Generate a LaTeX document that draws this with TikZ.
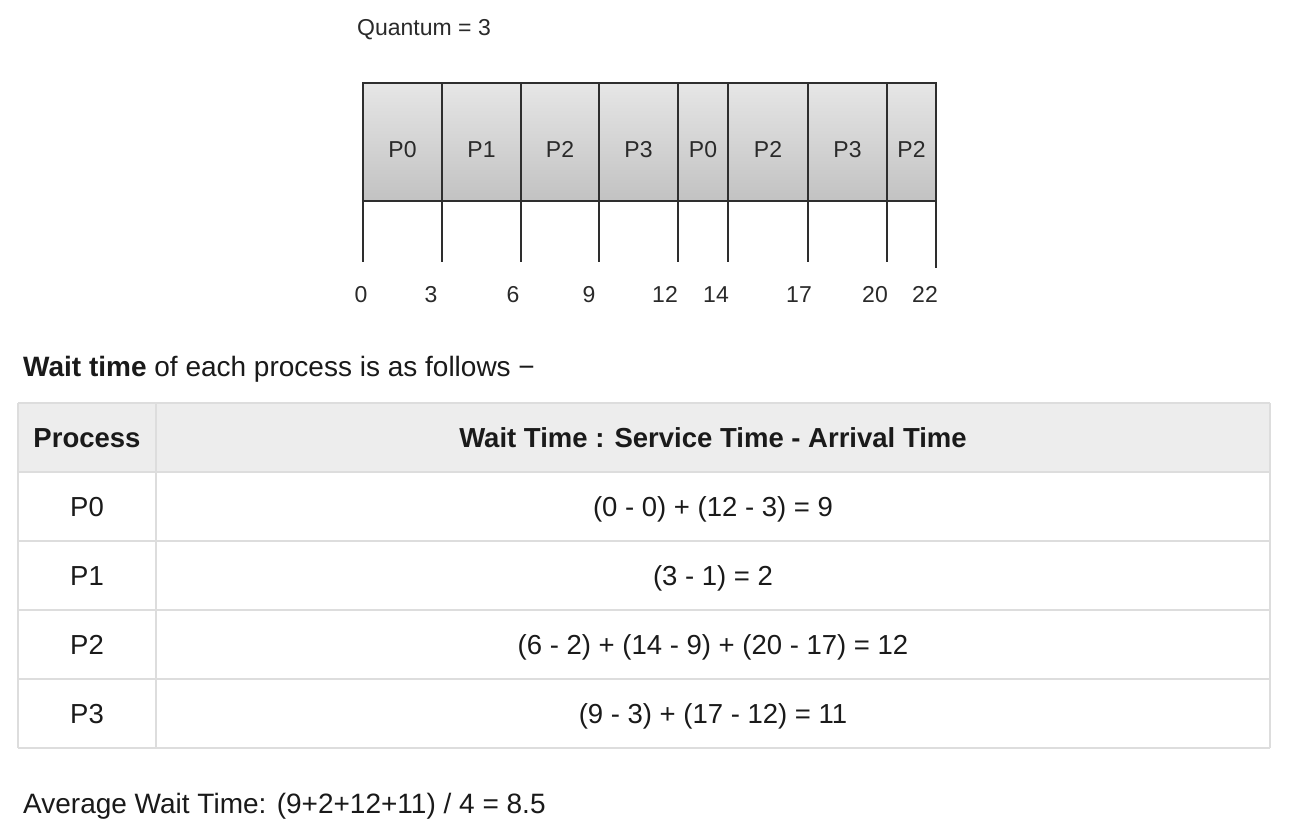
\documentclass[tikz,border=0pt]{standalone}
\usepackage{fontspec}
\setmainfont{Liberation Sans}
\definecolor{gline}{HTML}{2E2E2E}
\definecolor{gtext}{HTML}{2A2A2A}
\definecolor{gtop}{HTML}{E6E6E6}
\definecolor{gbot}{HTML}{C2C2C2}
\definecolor{tborder}{HTML}{DDDDDD}
\definecolor{thead}{HTML}{EDEDED}
\definecolor{ttext}{HTML}{1A1A1A}
\tikzset{
  gfont/.style={font=\fontsize{23}{26}\selectfont, text=gtext, inner sep=0pt, anchor=base},
  slot/.style={draw=gline, line width=1.6pt, top color=gtop, bottom color=gbot},
  tick/.style={draw=gline, line width=1.3pt},
  tfont/.style={font=\fontsize{27.5}{32}\selectfont, text=ttext, inner sep=0pt, anchor=base},
  bfont/.style={font=\fontsize{28}{32}\selectfont, text=ttext, inner sep=0pt, anchor=base west},
  tline/.style={draw=tborder, line width=1.3pt},
}
\begin{document}
\begin{tikzpicture}[x=1pt,y=-1pt]
\useasboundingbox (0,0) rectangle (1289,828);
\fill[white] (0,0) rectangle (1289,828);
% Quantum
\node[gfont, anchor=base west] (quant) at (357,35) {Quantum = 3};
% Gantt slots
\def\gtop{83}\def\gbot{201}
\foreach \a/\b/\lab/\nm in {363/442/P0/s1,442/521/P1/s2,521/599/P2/s3,599/678/P3/s4,678/728/P0/s5,728/808/P2/s6,808/887/P3/s7,887/936/P2/s8}{
  \path[slot] (\a,\gtop) rectangle (\b,\gbot);
  \node[gfont] (\nm) at ({(\a+\b)/2},157) {\lab};
}
% ticks
\foreach \x/\nm in {363/t0,442/t1,521/t2,599/t3,678/t4,728/t5,808/t6,887/t7}{
  \coordinate (\nm a) at (\x,\gbot);
  \coordinate (\nm b) at (\x,262);
  \draw[tick] (\nm a) -- (\nm b);
}
\coordinate (t8a) at (936,\gbot);
\coordinate (t8b) at (936,268);
\draw[tick] (t8a) -- (t8b);
% tick labels
\foreach \x/\lab/\nm in {361/0/l0,431/3/l1,513/6/l2,589/9/l3,665/12/l4,716/14/l5,799/17/l6,875/20/l7,925/22/l8}{
  \node[gfont] (\nm) at (\x,302) {\lab};
}
% heading text
\node[bfont] (wait) at (23,376) {\textbf{Wait time} of each process is as follows −};
% table
\fill[thead] (18,403) rectangle (1270,472);
\foreach \y in {403,472,541,610,679,748}{
  \draw[tline] (18,\y) -- (1270,\y);
}
\draw[tline] (18,403) -- (18,748);
\draw[tline] (156,403) -- (156,748);
\draw[tline] (1270,403) -- (1270,748);
\node[tfont] (h1) at (87,447) {\textbf{Process}};
\node[tfont] (h2) at (713,447) {\textbf{Wait Time : Service Time - Arrival Time}};
\node[tfont] (p0) at (87,516) {P0};
\node[tfont] (w0) at (713,516) {(0 - 0) + (12 - 3) = 9};
\node[tfont] (p1) at (87,585) {P1};
\node[tfont] (w1) at (713,585) {(3 - 1) = 2};
\node[tfont] (p2) at (87,654) {P2};
\node[tfont] (w2) at (713,654) {(6 - 2) + (14 - 9) + (20 - 17) = 12};
\node[tfont] (p3) at (87,723) {P3};
\node[tfont] (w3) at (713,723) {(9 - 3) + (17 - 12) = 11};
% average
\node[bfont] (avg) at (23,813) {Average Wait Time: (9+2+12+11) / 4 = 8.5};
\end{tikzpicture}
\end{document}
